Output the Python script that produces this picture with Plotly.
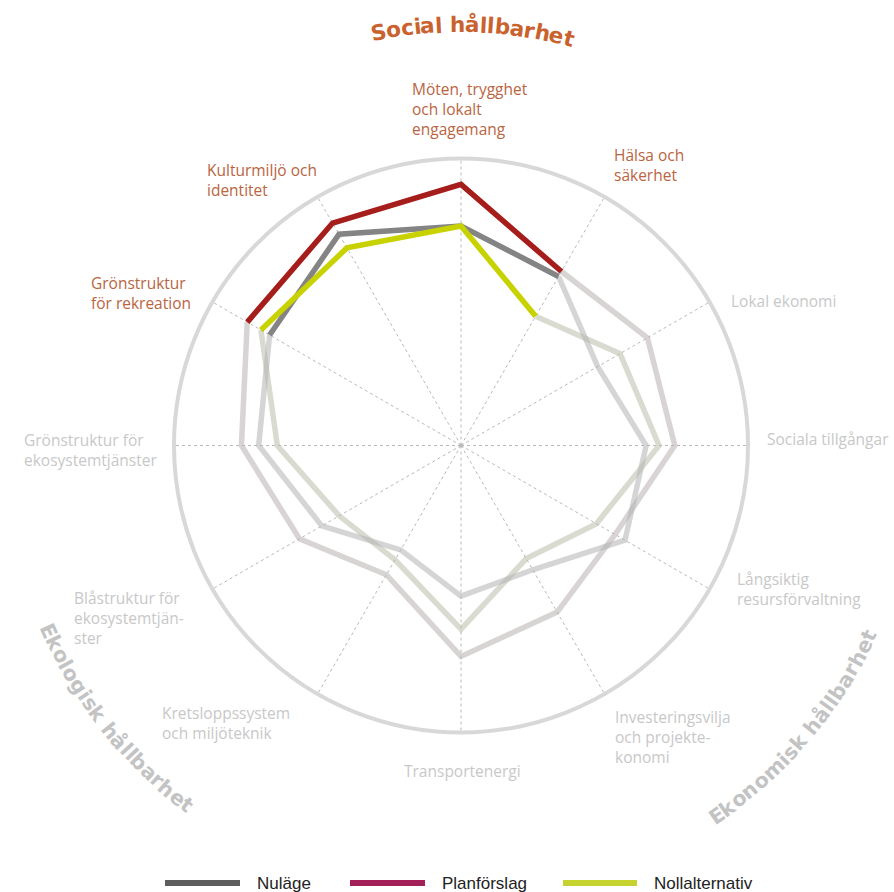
import math
import plotly.graph_objects as go

# ---------------- data ----------------
categories = [
    "Möten, trygghet och lokalt engagemang",
    "Hälsa och säkerhet",
    "Lokal ekonomi",
    "Sociala tillgångar",
    "Långsiktig resursförvaltning",
    "Investeringsvilja och projektekonomi",
    "Transportenergi",
    "Kretsloppssystem och miljöteknik",
    "Blåstruktur för ekosystemtjänster",
    "Grönstruktur för ekosystemtjänster",
    "Grönstruktur för rekreation",
    "Kulturmiljö och identitet",
]
nulage = [7.65, 6.8, 5.5, 6.45, 6.6, 5.0, 5.25, 4.2, 5.6, 7.05, 7.7, 8.5]
planforslag = [9.1, 7.0, 7.5, 7.45, 6.2, 6.7, 7.35, 5.2, 6.5, 7.65, 8.6, 8.95]
nollalternativ = [7.65, 5.2, 6.4, 6.9, 5.45, 4.55, 6.4, 4.6, 4.9, 6.4, 8.05, 7.95]
series_names = ["Nuläge", "Planförslag", "Nollalternativ"]
social_axes = [10, 11, 0, 1]          # axes drawn in colour
other_axes = list(range(1, 11))       # axes drawn in light grey

# ---------------- geometry / style ----------------
W, H = 894, 892
CX, CY, R = 461, 445.5, 287


def px(x, y):
    return x / W, 1 - y / H


line_col = {"Nuläge": "#848484", "Planförslag": "#a61e1b", "Nollalternativ": "#c8d200"}
grey_col = {"Nuläge": "rgba(178,178,178,0.55)",
            "Planförslag": "rgba(184,176,176,0.55)",
            "Nollalternativ": "rgba(186,190,172,0.55)"}
legend_col = {"Nuläge": "#5e5e5e", "Planförslag": "#a21f58", "Nollalternativ": "#c5d230"}
data = {"Nuläge": nulage, "Planförslag": planforslag, "Nollalternativ": nollalternativ}

fig = go.Figure()
for name in ["Planförslag", "Nollalternativ", "Nuläge"]:
    vals = data[name]
    fig.add_trace(go.Scatterpolar(
        r=[vals[i] for i in other_axes], theta=[categories[i] for i in other_axes],
        mode="lines", line=dict(color=grey_col[name], width=5.5),
        showlegend=False, hoverinfo="skip"))
for name in ["Nuläge", "Nollalternativ", "Planförslag"]:
    vals = data[name]
    fig.add_trace(go.Scatterpolar(
        r=[vals[i] for i in social_axes], theta=[categories[i] for i in social_axes],
        mode="lines", line=dict(color=line_col[name], width=5.5),
        name=name, showlegend=False))

x0, y1 = px(CX - R, CY - R)
x1, y0 = px(CX + R, CY + R)
fig.update_layout(
    width=W, height=H, margin=dict(l=0, r=0, t=0, b=0),
    paper_bgcolor="white", plot_bgcolor="white", showlegend=False,
    polar=dict(
        domain=dict(x=[x0, x1], y=[y0, y1]),
        bgcolor="white",
        radialaxis=dict(range=[0, 10], visible=False, showgrid=False),
        angularaxis=dict(
            categoryorder="array", categoryarray=categories,
            rotation=90, direction="clockwise",
            showticklabels=False, ticks="",
            showline=True, linecolor="#d8d8d8", linewidth=4,
            showgrid=True, gridcolor="#b9b9b9", gridwidth=1, griddash="dot"),
    ),
)

# ---------------- axis labels ----------------
ORANGE = "#b9653f"
GREY = "#c8c8c8"
LFONT = "Open Sans"
labels = [
    ("Möten, trygghet<br>och lokalt<br>engagemang", 410, 109, ORANGE, "left"),
    ("Hälsa och<br>säkerhet", 612, 165, ORANGE, "left"),
    ("Lokal ekonomi", 729, 301, GREY, "left"),
    ("Sociala tillgångar", 765, 439, GREY, "left"),
    ("Långsiktig<br>resursförvaltning", 735, 589, GREY, "left"),
    ("Investeringsvilja<br>och projekte-<br>konomi", 613, 737, GREY, "left"),
    ("Transportenergi", 462, 771, GREY, "center"),
    ("Kretsloppssystem<br>och miljöteknik", 160, 723, GREY, "left"),
    ("Blåstruktur för<br>ekosystemtjän-<br>ster", 72, 618, GREY, "left"),
    ("Grönstruktur för<br>ekosystemtjänster", 22, 450, GREY, "left"),
    ("Grönstruktur<br>för rekreation", 89, 293, ORANGE, "left"),
    ("Kulturmiljö och<br>identitet", 205, 180, ORANGE, "left"),
]
for txt, x, y, col, al in labels:
    ax, ay = px(x, y)
    fig.add_annotation(text=txt, x=ax, y=ay, xref="paper", yref="paper",
                       xanchor=al, yanchor="middle", align=al, showarrow=False,
                       font=dict(family=LFONT, size=15.5, color=col))

# ---------------- curved titles ----------------
DJB = {"S": 720, "o": 687, "c": 593, "i": 343, "a": 675, "l": 343, " ": 348,
       "h": 712, "å": 675, "b": 716, "r": 493, "e": 678, "t": 478, "E": 683,
       "k": 665, "g": 716, "s": 595, "n": 712, "m": 1042}


def arc_text(text, rad, center_deg, size, color, top):
    widths = [DJB.get(c, 600) / 1000 * size for c in text]
    total = sum(widths)
    pos = -total / 2
    for ch, w in zip(text, widths):
        off = pos + w / 2
        pos += w
        if ch == " ":
            continue
        d = math.degrees(off / rad)
        if top:
            phi = center_deg + d
            rot = phi
        else:
            phi = center_deg - d
            rot = phi + 180
        rot = (rot + 180) % 360 - 180
        x = CX + rad * math.sin(math.radians(phi))
        y = CY - rad * math.cos(math.radians(phi))
        ax, ay = px(x, y)
        fig.add_annotation(text=ch, x=ax, y=ay, xref="paper", yref="paper",
                           xanchor="center", yanchor="middle", showarrow=False,
                           textangle=rot,
                           font=dict(family="DejaVu Sans", size=size, color=color,
                                     weight="bold"))


arc_text("Social hållbarhet", 421, 1.6, 21.5, "#c9622e", True)
arc_text("Ekologisk hållbarhet", 452, 231.7, 20.5, "#c3c3c3", False)
arc_text("Ekonomisk hållbarhet", 450, 130.3, 20.5, "#c3c3c3", False)

# ---------------- legend ----------------
legend_items = [("Nuläge", 165, 240, 255), ("Planförslag", 350, 425, 440),
                ("Nollalternativ", 563, 637, 652)]
LY = 883
for name, xa, xb, xt in legend_items:
    p0 = px(xa, LY)
    p1 = px(xb, LY)
    fig.add_shape(type="line", xref="paper", yref="paper",
                  x0=p0[0], y0=p0[1], x1=p1[0], y1=p1[1],
                  line=dict(color=legend_col[name], width=6))
    tx, ty = px(xt, LY)
    fig.add_annotation(text=name, x=tx, y=ty, xref="paper", yref="paper",
                       xanchor="left", yanchor="middle", showarrow=False,
                       font=dict(family="Liberation Sans Narrow, Liberation Sans, Arial",
                                 size=17, color="#222222"))

fig.write_html(
    "out.html",
    config={"displayModeBar": False},
    post_script="document.body.style.margin='0';document.body.style.overflow='hidden';",
)
